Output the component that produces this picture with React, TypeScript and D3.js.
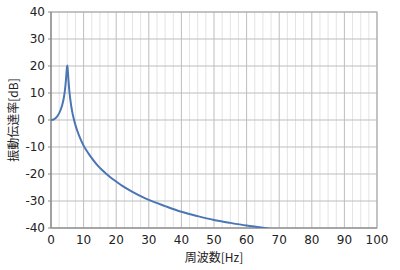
import React from "react";
import * as d3 from "d3";

const freqHz = [0, 1, 2, 3, 3.5, 4, 4.3, 4.6, 4.8, 4.9, 5, 5.1, 5.2, 5.4, 5.7, 6, 6.5, 7, 7.5, 8, 9, 10, 11, 12, 14, 16, 18, 20, 22, 25, 28, 30, 35, 40, 45, 50, 55, 60, 65, 67];
const transDb = [0, 0.35, 1.5, 3.9, 5.8, 8.7, 11.3, 15.0, 18.2, 19.6, 20.2, 19.2, 17.6, 14.1, 9.9, 6.9, 3.1, 0.4, -1.9, -3.8, -6.9, -9.5, -11.5, -13.3, -16.4, -18.9, -21.0, -22.8, -24.5, -26.6, -28.5, -29.6, -31.9, -34.0, -35.6, -37.0, -38.1, -39.1, -39.9, -40.3];
const xTicks = [0, 10, 20, 30, 40, 50, 60, 70, 80, 90, 100];
const yTicks = [-40, -30, -20, -10, 0, 10, 20, 30, 40];
const xLabel = "周波数[Hz]";
const yLabel = "振動伝達率[dB]";

const W = 400, H = 270;
const M = { left: 51, right: 23, top: 12, bottom: 42 };

export default function App() {
  const x = d3.scaleLinear().domain([0, 100]).range([M.left, W - M.right]);
  const y = d3.scaleLinear().domain([-40, 40]).range([H - M.bottom, M.top]);
  const minor = d3.range(0, 100.01, 2.5).filter((v) => v % 10 !== 0);
  const line = d3.line<number>().x((_, i) => x(freqHz[i])).y((d) => y(d)).curve(d3.curveMonotoneX);
  const numFont = "'DejaVu Sans', sans-serif";
  const cjkFont = "'Noto Sans CJK JP', sans-serif";
  return (
    <svg width={W} height={H} style={{ position: "absolute", left: 0, top: 0, background: "#fff" }}>
      <defs>
        <clipPath id="plot">
          <rect x={M.left} y={M.top} width={W - M.left - M.right} height={H - M.top - M.bottom} />
        </clipPath>
      </defs>
      {minor.map((v) => (
        <line key={"m" + v} x1={x(v)} x2={x(v)} y1={M.top} y2={H - M.bottom} stroke="#e4e4e4" strokeWidth={1} />
      ))}
      {xTicks.map((v) => (
        <line key={"gx" + v} x1={x(v)} x2={x(v)} y1={M.top} y2={H - M.bottom} stroke="#bdbdbd" strokeWidth={1} />
      ))}
      {yTicks.map((v) => (
        <line key={"gy" + v} x1={M.left} x2={W - M.right} y1={y(v)} y2={y(v)} stroke="#bdbdbd" strokeWidth={1} />
      ))}
      <rect x={M.left} y={M.top} width={W - M.left - M.right} height={H - M.top - M.bottom} fill="none" stroke="#a8a8a8" strokeWidth={1} />
      <line x1={M.left} x2={M.left} y1={M.top} y2={H - M.bottom} stroke="#8a8a8a" strokeWidth={1.2} />
      <line x1={M.left} x2={W - M.right} y1={H - M.bottom} y2={H - M.bottom} stroke="#8a8a8a" strokeWidth={1.2} />
      {yTicks.map((v) => (
        <line key={"ty" + v} x1={M.left - 3} x2={M.left} y1={y(v)} y2={y(v)} stroke="#8a8a8a" strokeWidth={1} />
      ))}
      <path d={line(transDb) || ""} fill="none" stroke="#4a76b4" strokeWidth={2} clipPath="url(#plot)" />
      {yTicks.map((v) => (
        <text key={"ly" + v} x={M.left - 6} y={y(v)} dy="0.36em" textAnchor="end" fontFamily={numFont} fontSize={12} fill="#222">
          {v}
        </text>
      ))}
      {xTicks.map((v) => (
        <text key={"lx" + v} x={x(v)} y={243.5} textAnchor="middle" fontFamily={numFont} fontSize={12} fill="#222">
          {v}
        </text>
      ))}
      <text x={(M.left + W - M.right) / 2} y={262} textAnchor="middle" fontFamily={cjkFont} fontSize={12} fill="#222">
        {xLabel}
      </text>
      <text transform={`translate(13.5,${(M.top + H - M.bottom) / 2}) rotate(-90)`} dy="0.36em" textAnchor="middle" fontFamily={cjkFont} fontSize={12} fill="#222">
        {yLabel}
      </text>
    </svg>
  );
}
